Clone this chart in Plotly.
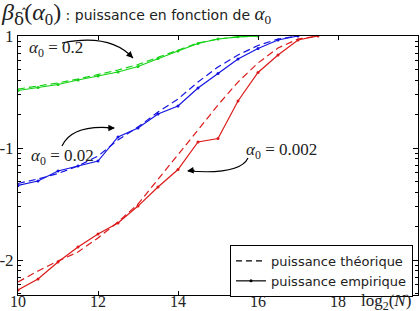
import plotly.graph_objects as go

# x values : log2(N)
x_green = [10, 10.5, 11, 11.5, 12, 12.5, 13, 13.5, 14, 14.5, 15, 15.5, 16]
x_blue = [10, 10.5, 11, 11.5, 12, 12.5, 13, 13.5, 14, 14.5, 15, 15.5, 16, 16.5, 17]
x_red = [10, 10.5, 11, 11.5, 12, 12.5, 13, 13.5, 14, 14.5, 15, 15.5, 16, 16.5, 17, 17.5]

# alpha0 = 0.2
green_emp = [0.326, 0.347, 0.369, 0.405, 0.439, 0.477, 0.534, 0.630, 0.735, 0.857, 0.940, 0.984, 1.0]
green_th = [0.336, 0.358, 0.381, 0.413, 0.453, 0.497, 0.556, 0.643, 0.750, 0.866, 0.940, 0.984, 1.0]
# alpha0 = 0.02
blue_emp = [0.0463, 0.0507, 0.0623, 0.0691, 0.0765, 0.1254, 0.1509, 0.2012, 0.2371, 0.3434,
            0.4625, 0.6232, 0.7733, 0.921, 1.0]
blue_th = [0.0482, 0.0529, 0.0592, 0.0691, 0.0848, 0.1179, 0.154, 0.2096, 0.2738, 0.3884,
           0.529, 0.6766, 0.8226, 0.940, 1.0]
# alpha0 = 0.002
red_emp = [0.0054, 0.00677, 0.0096, 0.01306, 0.01706, 0.0214, 0.0303, 0.0449, 0.0643, 0.1131,
           0.1216, 0.2628, 0.472, 0.677, 0.921, 1.0]
red_th = [0.00636, 0.00798, 0.0098, 0.01179, 0.01572, 0.02184, 0.0316, 0.0529, 0.0866, 0.1448,
          0.242, 0.388, 0.574, 0.781, 0.940, 1.0]

x_ticks = [10, 12, 14, 16, 18]
x_ticklabels = ["10", "12", "14", "16", "18"]
y_ticks = [0.01, 0.1, 1]
y_ticklabels = ["-2", "-1", "1"]

GREEN = "rgb(20,210,20)"
BLUE = "rgb(20,20,225)"
RED = "rgb(220,25,25)"
DASH = "7px,4px"
SERIF = "Liberation Serif"
SANS = "DejaVu Sans"

fig = go.Figure()
for xs, emp, th, col in [(x_green, green_emp, green_th, GREEN),
                         (x_blue, blue_emp, blue_th, BLUE),
                         (x_red, red_emp, red_th, RED)]:
    fig.add_trace(go.Scatter(x=xs, y=th, mode="lines", showlegend=False,
                             line=dict(color=col, width=1.2, dash=DASH)))
    fig.add_trace(go.Scatter(x=xs, y=emp, mode="lines+markers", showlegend=False,
                             line=dict(color=col, width=1.2),
                             marker=dict(color=col, size=3)))

# legend entries
fig.add_trace(go.Scatter(x=[None], y=[None], mode="lines", name="puissance théorique",
                         line=dict(color="black", width=1.2, dash="6px,4px")))
fig.add_trace(go.Scatter(x=[None], y=[None], mode="lines+markers", name="puissance empirique",
                         line=dict(color="black", width=1.2), marker=dict(color="black", size=3)))

W, H = 420, 311
L, R, T, B = 18, 2, 36, 16
pw, ph = W - L - R, H - T - B


def px(xp, yp):
    return (xp - L) / pw, (H - B - yp) / ph


def curve(p0, c, p1):
    a, b, d = px(*p0), px(*c), px(*p1)
    return f"M {a[0]},{a[1]} Q {b[0]},{b[1]} {d[0]},{d[1]}"


for p0, c, p1 in [((62, 43), (110, 33), (133, 58)),
                  ((62, 146), (72, 124), (114, 128)),
                  ((248, 158), (240, 175), (188, 171))]:
    fig.add_shape(type="path", path=curve(p0, c, p1), xref="paper", yref="paper",
                  line=dict(color="black", width=1.2))

# arrow heads
for tip, ax, ay in [((133, 58), -6, -6), ((115, 128), -9, 0), ((187, 171), 9, -1)]:
    tx, ty = px(*tip)
    fig.add_annotation(x=tx, y=ty, xref="paper", yref="paper", text="", showarrow=True,
                       ax=ax, ay=ay, arrowhead=2, arrowsize=1.1, arrowwidth=1.2,
                       arrowcolor="black")

# curve labels
for (xp, yp), txt in [((56, 49), "<i>α</i><sub>0</sub> = 0.2"),
                      ((62, 157), "<i>α</i><sub>0</sub> = 0.02"),
                      ((281, 151), "<i>α</i><sub>0</sub> = 0.002")]:
    tx, ty = px(xp, yp)
    fig.add_annotation(x=tx, y=ty, xref="paper", yref="paper", text=txt, showarrow=False,
                       xanchor="center", yanchor="middle",
                       font=dict(family=SERIF, size=17, color="#222"), bgcolor="rgba(0,0,0,0)")

# x axis label
fig.add_annotation(x=px(386, 0)[0], y=0, xref="paper", yref="paper",
                   text="log<sub>2</sub>(<i>N</i>)", showarrow=False, yanchor="top",
                   xanchor="center", yshift=6, font=dict(family=SERIF, size=17, color="#222"))

# hat over the subscript delta in the title
hx, hy = px(24, 14)
fig.add_annotation(x=hx, y=hy, xref="paper", yref="paper", text="ˆ", showarrow=False,
                   xanchor="center", yanchor="middle",
                   font=dict(family=SANS, size=12, color="#222"))

fig.update_layout(
    width=W, height=H,
    margin=dict(l=L, r=R, t=T, b=B, autoexpand=False),
    paper_bgcolor="white", plot_bgcolor="white",
    title=dict(text="<span style='font-family:Liberation Serif;font-size:24px'><i>β</i></span>"
                    "<span style='font-family:DejaVu Serif;font-size:24px'><sub>δ</sub></span>"
                    "<span style='font-family:Liberation Serif;font-size:24px'>(<i>α</i><sub>0</sub>)</span>"
                    " : puissance en fonction de "
                    "<span style='font-family:Liberation Serif;font-size:19px'><i>α</i><sub>0</sub></span>",
               x=0.005, xanchor="left", xref="container", y=0.95, yanchor="middle",
               font=dict(family=SANS, size=14, color="#222")),
    showlegend=True,
    legend=dict(x=px(413, 0)[0], y=px(0, 297)[1], xanchor="right", yanchor="bottom",
                bgcolor="white", bordercolor="black", borderwidth=1,
                font=dict(family=SANS, size=13, color="#222"),
                tracegroupgap=0, itemwidth=30),
)

fig.update_xaxes(range=[10, 20], tickmode="array", tickvals=x_ticks, ticktext=x_ticklabels,
                 ticks="inside", ticklen=4, tickcolor="black", showgrid=False, zeroline=False,
                 showline=True, linecolor="black", linewidth=1, mirror="ticks", automargin=False,
                 ticklabelstandoff=-8,
                 tickfont=dict(family=SERIF, size=16, color="#222"))

minor_vals = [k * 10 ** e for e in (-3, -2, -1) for k in range(2, 10)]
fig.update_yaxes(type="log", range=[-2.3125, 0], tickmode="array", tickvals=y_ticks,
                 ticktext=y_ticklabels, ticks="inside", ticklen=5, tickcolor="black",
                 showgrid=False, zeroline=False, showline=True, linecolor="black", linewidth=1,
                 mirror="ticks", automargin=False, tickfont=dict(family=SERIF, size=17, color="#222"),
                 minor=dict(tickmode="array", tickvals=minor_vals, ticks="inside", ticklen=3,
                            tickcolor="black", showgrid=False))

fig.write_html("out.html", config={"displayModeBar": False},
               post_script="document.body.style.margin='0px';")
